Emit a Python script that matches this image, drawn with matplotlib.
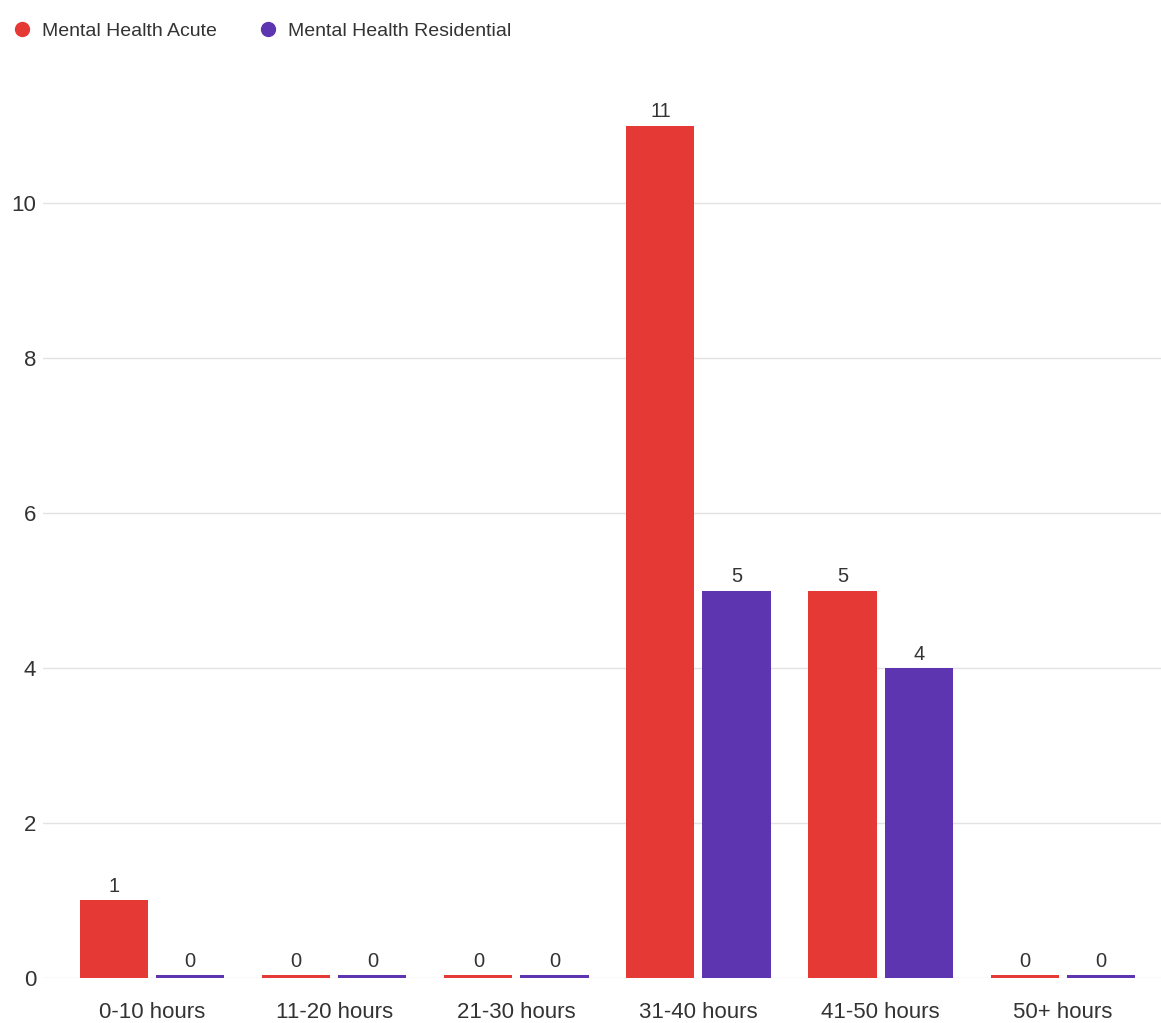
import numpy as np
import matplotlib.pyplot as plt
from matplotlib.lines import Line2D

plt.rcParams['font.family'] = ['Liberation Sans', 'DejaVu Sans']

# data
categories = ["0-10 hours", "11-20 hours", "21-30 hours", "31-40 hours", "41-50 hours", "50+ hours"]
acute = [1, 0, 0, 11, 5, 0]
residential = [0, 0, 0, 5, 4, 0]
series_names = ["Mental Health Acute", "Mental Health Residential"]
colors = ["#E53935", "#5E35B1"]

fig = plt.figure(figsize=(11.61, 10.23), dpi=100)
ax = fig.add_axes([0.037, 0.044, 0.963, 0.878])

x = np.arange(len(categories))
width = 0.374
offset = 0.209
min_h = 0.04  # zero values still drawn as a thin bar

for vals, off, col in [(acute, -offset, colors[0]), (residential, offset, colors[1])]:
    heights = [max(v, min_h) for v in vals]
    ax.bar(x + off, heights, width=width, color=col, zorder=3)
    for xi, v, h in zip(x + off, vals, heights):
        ax.annotate(str(v), (xi, h), xytext=(0, 3), textcoords="offset points",
                    ha="center", va="bottom", fontsize=14.5, color="#333333")

ax.set_xlim(-0.60, 5.54)
ax.set_ylim(0, 11.59)
ax.set_yticks([0, 2, 4, 6, 8, 10])
ax.set_xticks(x)
ax.set_xticklabels(categories)
ax.tick_params(axis="both", length=0, labelsize=16, colors="#333333")
ax.tick_params(axis="y", pad=5)
ax.tick_params(axis="x", pad=17)
ax.grid(axis="y", color="#e3e3e3", linewidth=1, zorder=0)
for s in ax.spines.values():
    s.set_visible(False)

handles = [Line2D([], [], marker="o", linestyle="", markersize=10, color=c) for c in colors]
fig.legend(handles, series_names, loc="upper left", bbox_to_anchor=(0.0106, 0.9785),
           ncol=2, frameon=False, fontsize=14, handlelength=1.0, handletextpad=0.53,
           columnspacing=2.13, borderpad=0, borderaxespad=0, labelcolor="#333333")

fig.savefig("out.png", dpi=100)
